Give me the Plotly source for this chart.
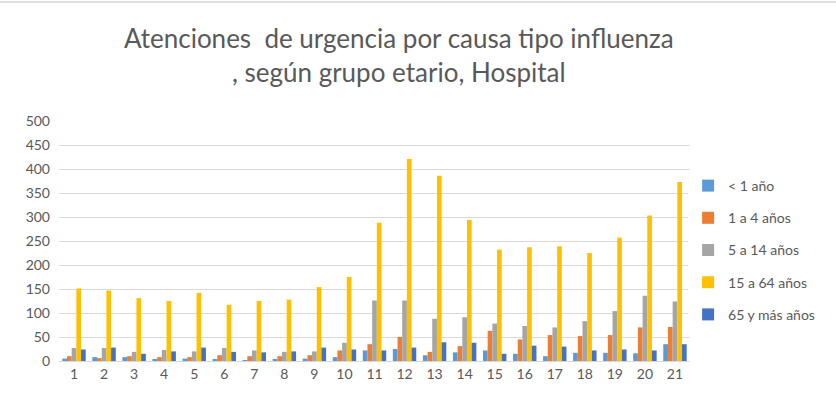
import plotly.graph_objects as go

categorias = [str(i) for i in range(1, 22)]
menor_1 = [5, 8, 8, 3, 5, 3, 1, 3, 5, 8, 22, 25, 12, 18, 22, 15, 10, 17, 17, 16, 35]
de_1_a_4 = [10, 6, 10, 8, 8, 12, 10, 10, 12, 22, 35, 50, 19, 31, 63, 45, 54, 52, 54, 70, 71]
de_5_a_14 = [27, 27, 19, 23, 20, 27, 22, 19, 20, 38, 126, 126, 88, 91, 78, 73, 70, 83, 104, 136, 124]
de_15_a_64 = [151, 147, 131, 125, 142, 117, 125, 128, 154, 175, 288, 421, 386, 294, 232, 237, 239, 225, 257, 303, 373]
mas_65 = [24, 28, 15, 20, 28, 19, 18, 20, 28, 24, 22, 28, 39, 38, 15, 32, 30, 22, 24, 22, 35]

series = [
    ("< 1 año", menor_1, "#5B9BD5"),
    ("1 a 4 años", de_1_a_4, "#ED7D31"),
    ("5 a 14 años", de_5_a_14, "#A5A5A5"),
    ("15 a 64 años", de_15_a_64, "#FFC000"),
    ("65 y más años", mas_65, "#4472C4"),
]

fig = go.Figure()
for name, vals, color in series:
    fig.add_trace(go.Bar(
        x=categorias, y=vals, name=name, legendgroup=name,
        marker=dict(color=color, line=dict(width=0)),
    ))

font_fam = "Lato, 'Open Sans', sans-serif"
fig.update_layout(
    width=836, height=405,
    barmode="group", bargap=0.22, bargroupgap=0,
    paper_bgcolor="white", plot_bgcolor="white",
    margin=dict(l=59, r=146, t=121, b=44),
    title=dict(
        text="Atenciones  de urgencia por causa tipo influenza<br>, según grupo etario, Hospital",
        x=0.477, xanchor="center", y=0.881, yanchor="middle",
        font=dict(family=font_fam, size=26, color="#595959"),
    ),
    font=dict(family=font_fam, size=14, color="#595959"),
    legend=dict(
        x=0.997, xanchor="left", y=0.4625, yanchor="middle",
        font=dict(size=14, color="#595959"),
        tracegroupgap=11, itemwidth=30,
        traceorder="grouped",
    ),
    xaxis=dict(
        type="category", showgrid=False, showline=True,
        linecolor="#D9D9D9", linewidth=1, ticks="",
        tickfont=dict(size=14, color="#595959"),
    ),
    yaxis=dict(
        range=[0, 500], dtick=50, showgrid=True,
        gridcolor="#D9D9D9", gridwidth=1, zeroline=False,
        showline=False, ticks="", ticklabelstandoff=8,
        tickfont=dict(size=14, color="#595959"),
    ),
)
fig.add_shape(type="line", xref="paper", yref="paper", x0=-59/631, x1=(631+146)/631,
              y0=(405-2-44)/240, y1=(405-2-44)/240, line=dict(color="#BFBFBF", width=1))

fig.write_html("out.html", config={"displayModeBar": False},
               post_script="document.body.style.margin='0';document.body.style.padding='0';")
